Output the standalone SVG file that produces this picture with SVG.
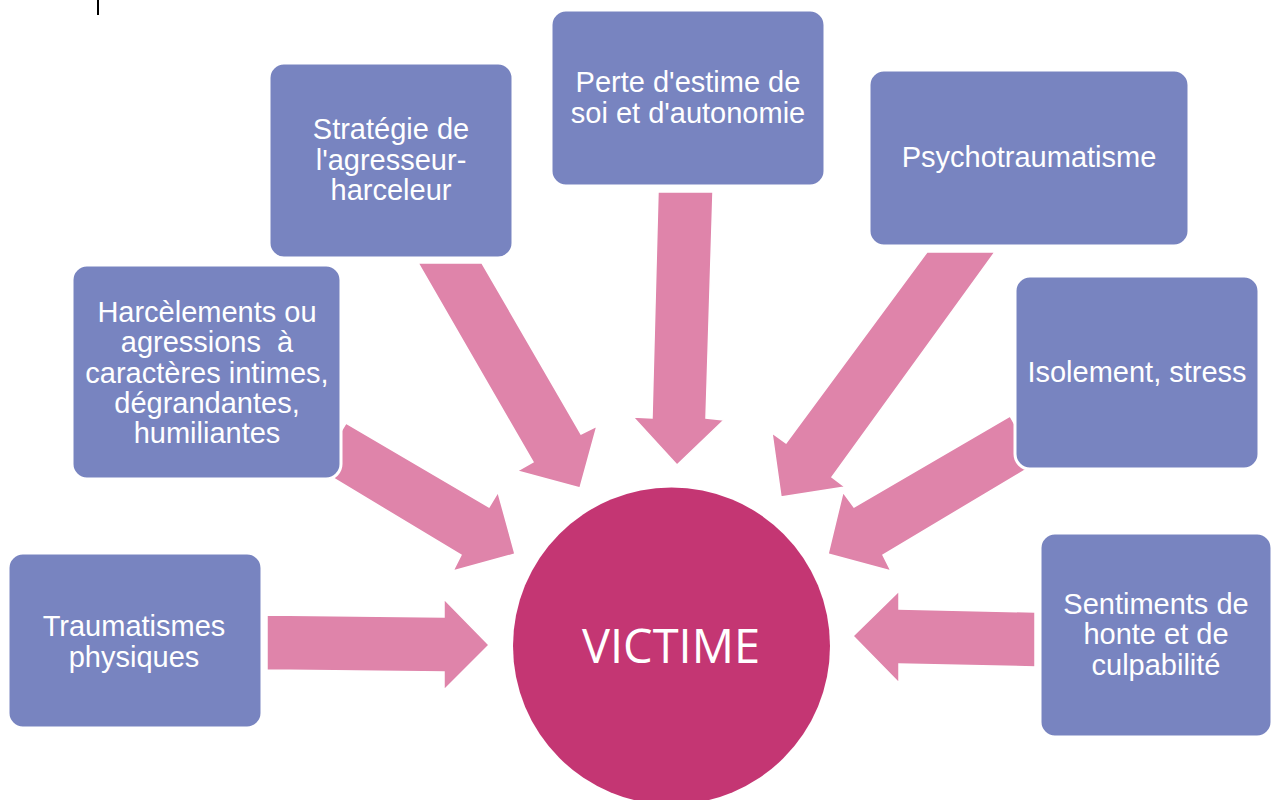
<svg xmlns="http://www.w3.org/2000/svg" width="1272" height="800" viewBox="0 0 1272 800">
<style>
.box{fill:#7884c0;stroke:#ffffff;stroke-width:3}
.arr{fill:#df84aa;stroke:#ffffff;stroke-width:1.5;stroke-linejoin:miter}
.t{font-family:"Liberation Sans",Arial,sans-serif;font-size:29px;fill:#ffffff;text-anchor:middle;white-space:pre}
.big{font-family:"Open Sans",sans-serif;font-size:47px;fill:#ffffff;text-anchor:middle}
</style>
<rect x="0" y="0" width="1272" height="800" fill="#ffffff"/>
<rect x="97" y="0" width="2" height="15" fill="#000000"/>
<g id="connectors">
<polygon class="arr" points="267,615 444,617 444,599 489,645 444,690 444,672 267,670"/>
<polygon class="arr" points="1035,612 899,609 899,591 853,636 899,683 899,664 1035,667"/>
<polygon class="arr" points="658,192 713,192 706,418 724,420 677,465 633,417 652,418"/>
<polygon class="arr" points="418,263 482,263 581,434 597,426 580,488 517,471 533,462"/>
<polygon class="arr" points="346,423 489,507 498,492 515,554 453,571 461,555 318,469"/>
<polygon class="arr" points="927,252 995,252 832,477 845,487 781,497 772,433 786,443"/>
<polygon class="arr" points="1010,416 854,507 843,492 828,554 891,571 883,555 1037,463"/>
</g>
<g id="node-traumatismes">
<rect class="box" x="8" y="553" width="254" height="175" rx="15"/>
<text class="t" x="134" y="636">Traumatismes</text>
<text class="t" x="134" y="667">physiques</text>
</g>
<g id="node-harcelements">
<rect class="box" x="72" y="265" width="269" height="214" rx="15"/>
<text class="t" x="207" y="322">Harcèlements ou</text>
<text class="t" x="207" y="352">agressions  à</text>
<text class="t" x="207" y="383">caractères intimes,</text>
<text class="t" x="207" y="413">dégrandantes,</text>
<text class="t" x="207" y="443">humiliantes</text>
</g>
<g id="node-strategie">
<rect class="box" x="269" y="63" width="244" height="195" rx="15"/>
<text class="t" x="391" y="139">Stratégie de</text>
<text class="t" x="391" y="170">l'agresseur-</text>
<text class="t" x="391" y="200">harceleur</text>
</g>
<g id="node-perte">
<rect class="box" x="551" y="10" width="274" height="176" rx="15"/>
<text class="t" x="688" y="92">Perte d'estime de</text>
<text class="t" x="688" y="123">soi et d'autonomie</text>
</g>
<g id="node-psycho">
<rect class="box" x="869" y="70" width="320" height="176" rx="15"/>
<text class="t" x="1029" y="167">Psychotraumatisme</text>
</g>
<g id="node-isolement">
<rect class="box" x="1015" y="276" width="244" height="193" rx="15"/>
<text class="t" x="1137" y="382">Isolement, stress</text>
</g>
<g id="node-sentiments">
<rect class="box" x="1040" y="533" width="232" height="204" rx="15"/>
<text class="t" x="1156" y="614">Sentiments de</text>
<text class="t" x="1156" y="644">honte et de</text>
<text class="t" x="1156" y="675">culpabilité</text>
</g>
<g id="node-victime">
<circle cx="671.5" cy="646" r="158.5" fill="#c43673"/>
<text class="big" x="671" y="663">VICTIME</text>
</g>
</svg>
